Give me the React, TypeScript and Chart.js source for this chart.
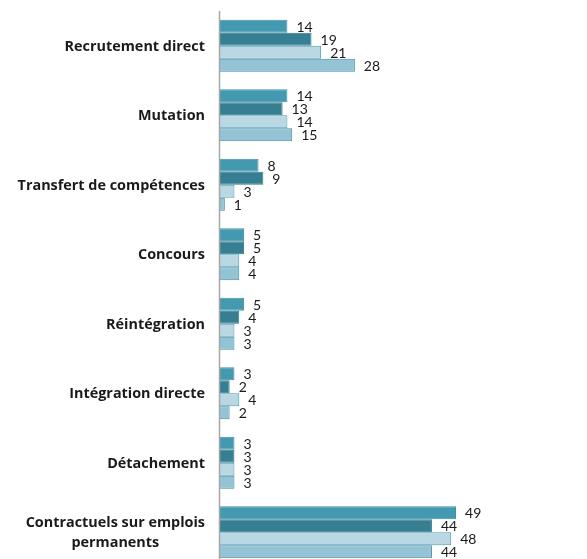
import React, { useEffect, useRef } from "react";
import { Chart, registerables } from "chart.js";

Chart.register(...registerables);

const categories: string[][] = [
  ["Recrutement direct"],
  ["Mutation"],
  ["Transfert de compétences"],
  ["Concours"],
  ["Réintégration"],
  ["Intégration directe"],
  ["Détachement"],
  ["Contractuels sur emplois", "permanents"],
];

const years = ["2015", "2017", "2019", "2021"];
const values2015 = [14, 14, 8, 5, 5, 3, 3, 49];
const values2017 = [19, 13, 9, 5, 4, 2, 3, 44];
const values2019 = [21, 14, 3, 4, 3, 4, 3, 48];
const values2021 = [28, 15, 1, 4, 3, 2, 3, 44];

const fills = ["#4399AF", "#367F92", "#BAD8E3", "#93C3D4"];
const borders = ["#3E91A6", "#32788A", "#4A9AB0", "#3F8DA3"];

const LABEL_FONT = "bold 14.4px 'Open Sans'";
const VALUE_FONT = "14px Lato";

const customPlugin = {
  id: "custom",
  afterDraw(chart: any) {
    const ctx = chart.ctx;
    const yScale = chart.scales.y;
    const area = chart.chartArea;
    ctx.save();
    // axis line
    ctx.strokeStyle = "#A6A6A6";
    ctx.lineWidth = 1.5;
    ctx.beginPath();
    ctx.moveTo(area.left - 0.5, area.top);
    ctx.lineTo(area.left - 0.5, area.bottom);
    ctx.stroke();
    // category labels
    ctx.fillStyle = "#1a1a1a";
    ctx.font = LABEL_FONT;
    ctx.textBaseline = "middle";
    categories.forEach((lines, i) => {
      const yc = yScale.getPixelForValue(i) + 1;
      const widths = lines.map((l) => ctx.measureText(l).width);
      const maxW = Math.max(...widths);
      const right = area.left - 15;
      const lh = 20;
      lines.forEach((l, j) => {
        const y = yc + (j - (lines.length - 1) / 2) * lh;
        const cx = right - maxW / 2;
        ctx.textAlign = "center";
        ctx.fillText(l, lines.length > 1 ? cx : right - widths[j] / 2, y);
      });
    });
    // value labels
    ctx.font = VALUE_FONT;
    ctx.fillStyle = "#1a1a1a";
    ctx.textAlign = "left";
    chart.data.datasets.forEach((ds: any, di: number) => {
      const meta = chart.getDatasetMeta(di);
      meta.data.forEach((bar: any, i: number) => {
        ctx.fillText(String(ds.data[i]), bar.x + 9, bar.y + 1);
      });
    });
    // legend
    const lx = 535;
    const ly = [243, 273, 304, 335];
    ctx.font = VALUE_FONT;
    years.forEach((yr, i) => {
      ctx.fillStyle = fills[i];
      ctx.fillRect(lx, ly[i] - 4.5, 9, 9);
      ctx.strokeStyle = borders[i];
      ctx.lineWidth = 1;
      ctx.strokeRect(lx + 0.5, ly[i] - 4, 8, 8);
      ctx.fillStyle = "#1a1a1a";
      ctx.textAlign = "left";
      ctx.fillText(yr, 548, ly[i] + 1);
    });
    ctx.restore();
  },
};

export default function App() {
  const ref = useRef<HTMLCanvasElement | null>(null);
  useEffect(() => {
    if (!ref.current) return;
    const allSeries = [values2015, values2017, values2019, values2021];
    const chart = new Chart(ref.current, {
      type: "bar",
      data: {
        labels: categories.map((c) => c.join(" ")),
        datasets: years.map((yr, i) => ({
          label: yr,
          data: allSeries[i],
          backgroundColor: fills[i],
          borderColor: borders[i],
          borderWidth: 1,
          categoryPercentage: 0.75,
          barPercentage: 1,
        })),
      },
      options: {
        indexAxis: "y",
        animation: false,
        responsive: false,
        maintainAspectRatio: false,
        layout: { padding: { top: 11, bottom: 0, left: 0, right: 0 } },
        plugins: { legend: { display: false }, tooltip: { enabled: false } },
        scales: {
          x: {
            display: false,
            min: 0,
            max: 60,
          },
          y: {
            display: true,
            grid: { display: false, drawTicks: false },
            border: { display: false },
            ticks: { display: false },
            afterFit(scale: any) {
              scale.width = 220;
            },
          },
        },
      },
      plugins: [customPlugin],
    } as any);
    return () => chart.destroy();
  }, []);
  return (
    <div
      style={{
        position: "fixed",
        left: 0,
        top: 0,
        width: 587,
        height: 559,
        overflow: "hidden",
        background: "#fff",
      }}
    >
      <canvas ref={ref} width={509} height={567} style={{ display: "block" }} />
    </div>
  );
}
